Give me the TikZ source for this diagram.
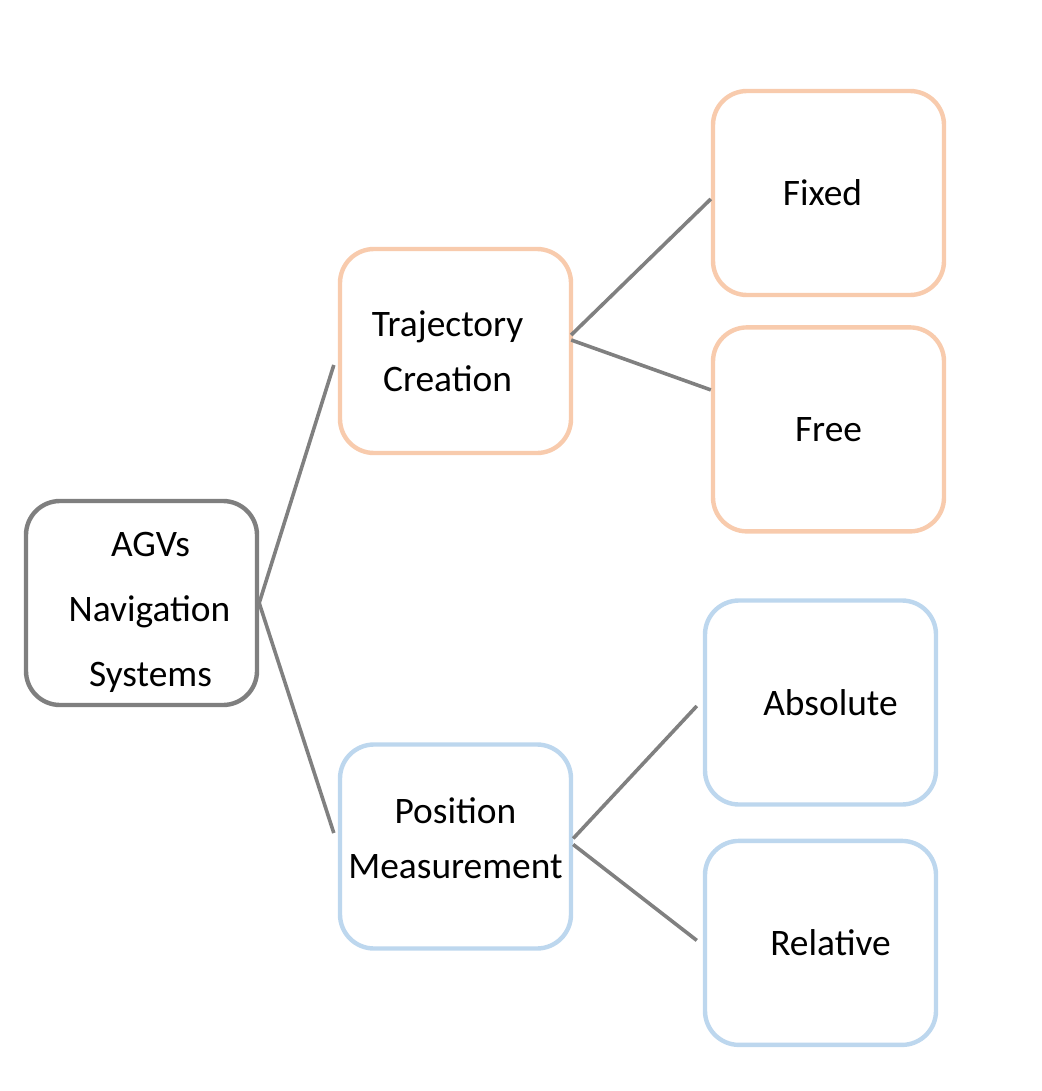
\documentclass[tikz,border=0pt]{standalone}
\usepackage{fontspec}
\setmainfont{Carlito}
\usepackage{xcolor}
\usepackage{tikz}
\usetikzlibrary{positioning}
\definecolor{rootgray}{HTML}{7F7F7F}
\definecolor{peach}{HTML}{F8CBAD}
\definecolor{skyblue}{HTML}{BDD7EE}
\definecolor{linkgray}{HTML}{808080}

\begin{document}
\begin{tikzpicture}[
  x=0.5pt, y=-0.5pt,
  box/.style={draw, line width=2.2pt, rounded corners=17pt, minimum width=115.5pt, minimum height=102pt, align=center, fill=white, font=\fontsize{18.7}{27.5}\selectfont},
  link/.style={draw=linkgray, line width=1.8pt}
]
\useasboundingbox (0,0) rectangle (1042,1091);
\node[box, draw=rootgray] (agvs) at (141.5,603) {\hspace*{9pt}AGVs\\[5pt]\hspace*{8pt}Navigation\\[5pt]\hspace*{9pt}Systems\\[-33.5pt]};
\node[box, draw=peach] (traj) at (455.5,351) {Trajectory\hspace*{8pt}\\Creation\hspace*{8pt}};
\node[box, draw=skyblue] (posm) at (455.5,846.5) {Position\\Measurement\\[-19pt]};
\node[box, draw=peach] (fixed) at (828.5,193) {Fixed\hspace*{6pt}};
\node[box, draw=peach, below=14pt of fixed] (free) {Free};
\node[box, draw=skyblue] (absol) at (820.5,702.5) {\hspace*{10pt}Absolute};
\node[box, draw=skyblue, below=16pt of absol] (relat) {\hspace*{10pt}Relative};
% links
\draw[link] (agvs.east) -- ([xshift=-2pt,yshift=-7pt]traj.west);
\draw[link] (agvs.east) -- ([xshift=-2pt,yshift=6.75pt]posm.west);
\draw[link] ([xshift=-1pt,yshift=8pt]traj.east) -- ([yshift=-3pt]fixed.west);
\draw[link] ([xshift=-1pt,yshift=5.5pt]traj.east) -- ([yshift=19.75pt]free.west);
\draw[link] ([yshift=4pt]posm.east) -- ([xshift=-3pt,yshift=-1.75pt]absol.west);
\draw[link] ([yshift=1pt]posm.east) -- ([xshift=-3pt,yshift=1.25pt]relat.west);
\end{tikzpicture}
\end{document}
